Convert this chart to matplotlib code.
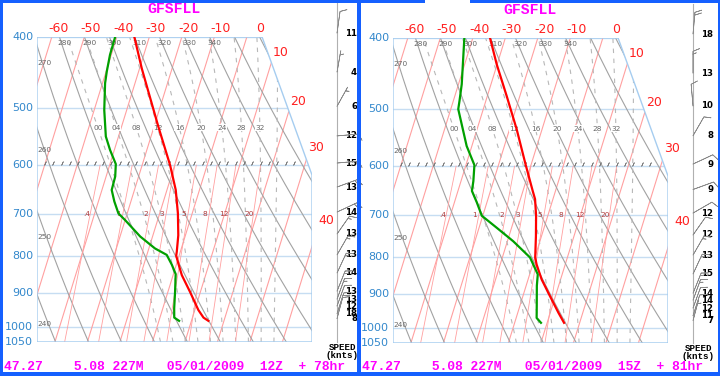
import numpy as np
import matplotlib
matplotlib.use("Agg")
import matplotlib.pyplot as plt
from matplotlib.patches import Polygon, Rectangle

# ---------------- sounding data ----------------
# left panel: 05/01/2009 12Z + 78hr
temp_p_12 = [400, 442, 468, 531, 600, 649, 699, 749, 789, 799, 819, 850, 896, 949, 972, 982]
temp_12 = [-34.6, -29.3, -26.0, -18.7, -11.4, -7.3, -4.4, -2.2, -1.1, -0.9, 0.5, 2.7, 6.8, 11.1, 13.4, 15.2]
dew_p_12 = [400, 423, 446, 463, 504, 548, 572, 598, 622, 649, 673, 699, 714, 752, 781, 797,
            822, 847, 896, 944, 972, 982]
dew_12 = [-40.5, -40.4, -39.8, -39.2, -36.9, -33.9, -31.3, -28.2, -27.2, -27.0, -25.1, -22.7,
          -20.0, -13.8, -8.1, -3.9, -1.4, 0.7, 2.2, 3.5, 4.4, 6.2]
wind_p_12 = [395, 447, 498, 547, 596, 643, 696, 746, 797, 844, 894, 917, 937, 960, 975]
wind_spd_12 = [11, 4, 6, 12, 15, 13, 14, 13, 13, 14, 13, 13, 12, 18, 8]
wind_dir_12 = [8, 10, 29, 85, 85, 70, 65, 35, 30, 25, 22, 20, 20, 18, 15]

# right panel: 05/01/2009 15Z + 81hr
temp_p_15 = [400, 435, 481, 534, 597, 649, 666, 702, 749, 801, 819, 859, 905, 954, 985]
temp_15 = [-34.7, -30.1, -24.0, -17.8, -11.7, -7.0, -5.5, -3.6, -1.7, 0.1, 1.2, 4.2, 8.3, 12.5, 15.2]
dew_p_15 = [400, 463, 488, 501, 563, 598, 629, 649, 673, 702, 729, 761, 801, 845, 876, 934, 970, 985]
dew_15 = [-42.6, -39.0, -38.1, -37.7, -31.6, -27.4, -26.2, -25.7, -23.1, -20.3, -14.6, -8.2,
          -1.5, 2.5, 3.3, 5.2, 6.3, 8.1]
wind_p_15 = [395, 447, 496, 545, 596, 646, 696, 746, 795, 844, 897, 917, 940, 963, 978]
wind_spd_15 = [18, 13, 10, 8, 9, 9, 12, 12, 13, 15, 14, 14, 12, 11, 7]
wind_dir_15 = [5, 0, 355, 30, 65, 70, 60, 35, 30, 25, 22, 20, 20, 18, 15]

titles = ["GFSFLL", "GFSFLL"]
footers = ["47.27    5.08 227M   05/01/2009  12Z  + 78hr",
           "47.27    5.08 227M   05/01/2009  15Z  + 81hr"]

# chart furniture
isobars = [400, 500, 600, 700, 800, 900, 1000, 1050]
top_temps = [-60, -50, -40, -30, -20, -10, 0]
side_temps = [10, 20, 30, 40]
side_temp_p = [420, 490, 567, 715]
theta_lines = np.arange(230, 380, 10)
theta_top = [280, 290, 300, 310, 320, 330, 340]
theta_side = [270, 260, 250, 240]
theta_side_p = [434, 572, 753, 992]
thetaw_lines = [0, 4, 8, 12, 16, 20, 24, 28, 32, 36]
thetaw_labels = ["00", "04", "08", "12", "16", "20", "24", "28", "32"]
mix_ratios = [0.4, 1, 2, 3, 5, 8, 12, 20]
mix_labels = [".4", "1", "2", "3", "5", "8", "12", "20"]

SKEW = 30.1
P_BOT, P_TOP, P_KNEE = 1050.0, 400.0, 619.0
X_LEFT, X_RIGHT, X_TOPR = -35.5, 49.1, 33.75

MAG = "#ff00ff"
BLUE = "#3388cc"
RED = "#ff2020"


def skx(t, p):
    return np.asarray(t, float) + SKEW * np.log(P_BOT / np.asarray(p, float))


p_grid = np.geomspace(P_TOP, P_BOT, 200)


def dry_t(theta, p):
    return theta * (p / 1000.0) ** 0.2857 - 273.15


def mix_t(w, p):
    e = w / 1000.0 * p / (0.622 + w / 1000.0)
    a = np.log(e / 6.112)
    return 243.5 * a / (17.67 - a)


def moist_rate(T, p):
    Rd, cp, Lv, eps = 287.04, 1005.7, 2.501e6, 0.622
    es = 6.112 * np.exp(17.67 * (T - 273.15) / (T - 29.65))
    rs = eps * es / (p - es)
    return (Rd * T + Lv * rs) / (cp + Lv * Lv * rs * eps / (Rd * T * T))


def moist_t(tw):
    parts = []
    for end, n in ((P_TOP, 120), (P_BOT, 10)):
        lp = np.linspace(np.log(1000.0), np.log(end), n)
        T = tw + 273.15
        out = [T]
        for a, b in zip(lp[:-1], lp[1:]):
            h = b - a
            k1 = moist_rate(T, np.exp(a))
            k2 = moist_rate(T + h / 2 * k1, np.exp(a + h / 2))
            k3 = moist_rate(T + h / 2 * k2, np.exp(a + h / 2))
            k4 = moist_rate(T + h * k3, np.exp(b))
            T = T + h / 6 * (k1 + 2 * k2 + 2 * k3 + k4)
            out.append(T)
        parts.append((np.exp(lp), np.array(out) - 273.15))
    p = np.concatenate([parts[1][0][::-1], parts[0][0][1:]])
    t = np.concatenate([parts[1][1][::-1], parts[0][1][1:]])
    return p, t


def draw_panel(ax, t_p, t, d_p, d, w_p, w_spd, w_dir, title):
    ax.set_yscale("log")
    ax.set_ylim(P_BOT, P_TOP)
    ax.set_xlim(X_LEFT, X_RIGHT)
    ax.axis("off")

    frame = Polygon([(X_LEFT, P_TOP), (X_TOPR, P_TOP), (X_RIGHT, P_KNEE),
                     (X_RIGHT, P_BOT), (X_LEFT, P_BOT)], closed=True,
                    fc="none", ec="#a6cdf0", lw=1.0, zorder=5)
    ax.add_patch(frame)

    lines = []
    for p in isobars:
        lines += ax.plot([X_LEFT, X_RIGHT], [p, p], color="#c6ddf2", lw=1.0)
    for T in range(-100, 60, 10):
        lines += ax.plot(skx(T, p_grid), p_grid, color="#ffa0a0", lw=0.8)
    for th in theta_lines:
        lines += ax.plot(skx(dry_t(th, p_grid), p_grid), p_grid, color="#a2a2a2", lw=0.8)
    for tw in thetaw_lines:
        mp, mt = moist_t(tw)
        lines += ax.plot(skx(mt, mp), mp, color="#b8b8b8", lw=0.8, dashes=(4, 5))
    pm = np.geomspace(600, P_BOT, 60)
    for w in mix_ratios:
        lines += ax.plot(skx(mix_t(w, pm), pm), pm, color="#ffa0a0", lw=0.6)
    tick_x = np.arange(-33, 44, 2.55)
    lines += ax.plot(tick_x, np.full(tick_x.shape, 596.0), ls="none", marker=(2, 2, -25),
                     ms=3, mew=0.5, color="#777777")
    for ln in lines:
        ln.set_clip_path(frame)

    # profiles
    ax.plot(skx(t, t_p), t_p, color="#ff0000", lw=1.6, zorder=6)
    ax.plot(skx(d, d_p), d_p, color="#00a000", lw=1.6, zorder=6)

    # labels
    for p in isobars:
        ax.text(X_LEFT - 1.2, p, str(p), ha="right", va="center", color=BLUE, fontsize=8)
    for T in top_temps:
        ax.text(skx(T, P_TOP) + 5.2, 390, "%d" % T, ha="right", va="center", color=RED, fontsize=9)
    for T, p in zip(side_temps, side_temp_p):
        ax.text(skx(T, p) - 0.6, p, "%d" % T, ha="left", va="center", color=RED, fontsize=9)
    for th in theta_top:
        ax.text(skx(dry_t(th, P_TOP), P_TOP) - 0.6, 408, str(th), ha="left", va="center",
                color="#666666", fontsize=5.3)
    for th, p in zip(theta_side, theta_side_p):
        ax.text(X_LEFT + 0.2, p, str(th), ha="left", va="center", color="#666666", fontsize=5.3)
    for tw, lab in zip(thetaw_lines, thetaw_labels):
        mp, mt = moist_t(tw)
        xl = np.interp(np.log(533.0), np.log(mp[::-1]), skx(mt, mp)[::-1])
        ax.text(xl, 533, lab, ha="center", va="center", color="#666666", fontsize=5.3,
                bbox=dict(fc="white", ec="none", pad=0.2))
    for w, lab in zip(mix_ratios, mix_labels):
        ax.text(skx(mix_t(w, 700.0), 700.0) - 1.2, 700, lab, ha="center", va="center",
                color="#b03a3a", fontsize=5.3)

    # wind column
    staff_x = 56.8
    ax.plot([staff_x, staff_x], [359, P_BOT], color="#b0b0b0", lw=0.8, clip_on=False)
    rad = np.deg2rad(np.array(w_dir, float))
    spd = np.array(w_spd, float)
    u = -spd * np.sin(rad)
    v = -spd * np.cos(rad)
    ax.barbs(np.full(len(w_p), staff_x), w_p, u, v, length=5.6, lw=0.5, color="#8a8a8a",
             sizes=dict(height=0.3, spacing=0.13), clip_on=False, zorder=4)
    for p, s in zip(w_p, w_spd):
        ax.text(63.0, p, str(s), ha="right", va="center", fontsize=6.2, fontweight="bold",
                color="black")
    ax.text(58.4, 1068, "SPEED", ha="center", va="center", fontsize=6.6, fontweight="bold",
            family="Liberation Mono")
    ax.text(58.4, 1096, "(knts)", ha="center", va="center", fontsize=6.6, fontweight="bold",
            family="Liberation Mono")

    ax.text(0.5 * (X_LEFT + X_RIGHT), 366, title, ha="center", va="center", color=MAG,
            fontsize=10.6, fontweight="bold", family="Liberation Mono")


fig = plt.figure(figsize=(7.2, 3.76), dpi=100)
fig.patch.set_facecolor("white")

ax1 = fig.add_axes([37 / 720, 34 / 376, 275 / 720, 305 / 376])
ax2 = fig.add_axes([393 / 720, 33 / 376, 275 / 720, 305 / 376])
draw_panel(ax1, temp_p_12, temp_12, dew_p_12, dew_12, wind_p_12, wind_spd_12, wind_dir_12,
           titles[0])
draw_panel(ax2, temp_p_15, temp_15, dew_p_15, dew_15, wind_p_15, wind_spd_15, wind_dir_15,
           titles[1])

fig.text(4 / 720, 1 - 367 / 376, footers[0], ha="left", va="center", color=MAG,
         fontsize=9.4, fontweight="bold", family="Liberation Mono")
fig.text(362 / 720, 1 - 367 / 376, footers[1], ha="left", va="center", color=MAG,
         fontsize=9.4, fontweight="bold", family="Liberation Mono")


def blue_bar(x, y, w, h):
    fig.add_artist(Rectangle((x / 720, 1 - (y + h) / 376), w / 720, h / 376,
                             transform=fig.transFigure, color="#1560ff", lw=0))


blue_bar(0, 0, 3, 376)
blue_bar(0, 0, 425, 2.5)
blue_bar(0, 372, 720, 4)
blue_bar(357, 0, 4, 376)
blue_bar(470, 0, 250, 2.5)
blue_bar(718, 0, 2, 376)

fig.savefig("out.png", dpi=100)
